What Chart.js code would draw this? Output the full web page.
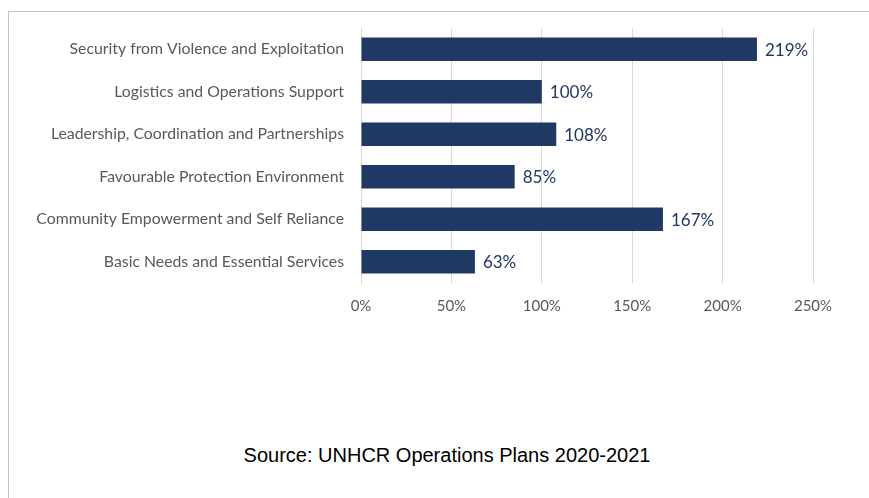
<!DOCTYPE html>
<html>
<head>
<meta charset="utf-8">
<script src="https://cdn.jsdelivr.net/npm/chart.js@4/dist/chart.umd.min.js"></script>
<style>
  html, body { margin: 0; padding: 0; background: #fff; }
  body { width: 869px; height: 498px; position: relative; overflow: hidden; }
  .frame {
    position: absolute; left: 8px; top: 11px; width: 900px; height: 520px;
    border-left: 1px solid #c4c4c4; border-top: 1px solid #c4c4c4;
  }
  .chart-box { position: absolute; left: 0; top: 0; width: 869px; height: 320px; }
  .source {
    position: absolute; left: 0; width: 894px; top: 444px; text-align: center;
    font-family: "Liberation Sans", Arial, sans-serif; font-size: 20px; color: #000;
  }
</style>
</head>
<body>
<div class="frame"></div>
<div class="chart-box"><canvas id="fundingChart"></canvas></div>
<div class="source">Source: UNHCR Operations Plans 2020-2021</div>

<script>
// Funding coverage by objective (top to bottom)
const categories = [
  "Security from Violence and Exploitation",
  "Logistics and Operations Support",
  "Leadership, Coordination and Partnerships",
  "Favourable Protection Environment",
  "Community Empowerment and Self Reliance",
  "Basic Needs and Essential Services"
];
const coverage = [219, 100, 108, 85, 167, 63];
const xTicks = [0, 50, 100, 150, 200, 250];

const barColor = "#203864";
const labelGray = "#595959";
const gridGray = "#d9d9d9";

// draws the "219%" style labels just past the end of each bar
const valueLabels = {
  id: "valueLabels",
  afterDatasetsDraw(chart) {
    const { ctx } = chart;
    const meta = chart.getDatasetMeta(0);
    ctx.save();
    ctx.font = "17px Lato, sans-serif";
    ctx.fillStyle = barColor;
    ctx.textAlign = "left";
    ctx.textBaseline = "middle";
    meta.data.forEach((bar, i) => {
      ctx.fillText(coverage[i] + "%", bar.x + 8, bar.y + 1);
    });
    ctx.restore();
  }
};

const ctx = document.getElementById("fundingChart").getContext("2d");

new Chart(ctx, {
  type: "bar",
  data: {
    labels: categories,
    datasets: [{
      data: coverage,
      backgroundColor: barColor,
      borderWidth: 0,
      categoryPercentage: 1,
      barPercentage: 0.55
    }]
  },
  options: {
    indexAxis: "y",
    responsive: true,
    maintainAspectRatio: false,
    animation: false,
    layout: { padding: { top: 28, right: 56, left: 0, bottom: 0 } },
    plugins: {
      legend: { display: false },
      tooltip: { enabled: false }
    },
    scales: {
      x: {
        min: 0,
        max: 250,
        afterBuildTicks: scale => { scale.ticks = xTicks.map(v => ({ value: v })); },
        afterFit: scale => { scale.height = 37; },
        grid: { color: gridGray, drawTicks: false },
        border: { display: false },
        ticks: {
          color: labelGray,
          font: { family: "Lato", size: 15 },
          padding: 14,
          callback: v => v + "%"
        }
      },
      y: {
        afterFit: scale => { scale.width = 361; },
        grid: { display: false, drawTicks: false },
        border: { color: gridGray },
        ticks: {
          color: labelGray,
          font: { family: "Lato", size: 15.8 },
          padding: 17
        }
      }
    }
  },
  plugins: [valueLabels]
});
</script>
</body>
</html>
